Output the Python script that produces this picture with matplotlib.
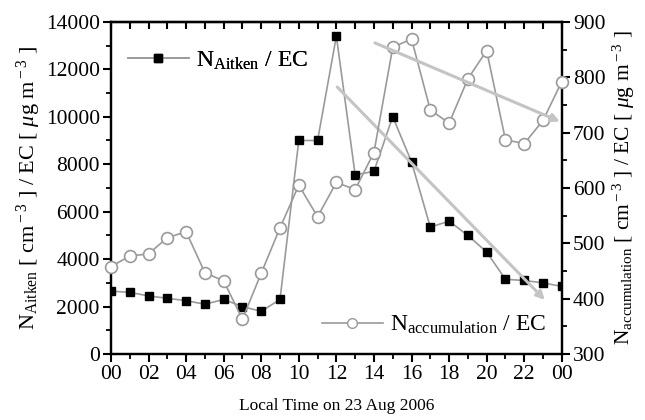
import numpy as np
import matplotlib.pyplot as plt
from matplotlib.ticker import MultipleLocator
from matplotlib.lines import Line2D

plt.rcParams["font.family"] = ["Liberation Serif", "DejaVu Serif"]
plt.rcParams["mathtext.fontset"] = "custom"
plt.rcParams["mathtext.rm"] = "Liberation Serif"
plt.rcParams["mathtext.it"] = "Liberation Serif:italic"

# ---------------------------------------------------------------------------
# Data (hour of 23 Aug 2006, 24 = 00 next day)
# ---------------------------------------------------------------------------
hours = list(range(25))
hour_labels = ["00", "02", "04", "06", "08", "10", "12", "14", "16", "18", "20", "22", "00"]

n_aitken = [2650, 2600, 2450, 2350, 2250, 2100, 2300, 2000, 1800, 2300,
            9000, 9000, 13400, 7550, 7700, 10000, 8100, 5350, 5600, 5000,
            4300, 3150, 3100, 3000, 2850]

n_accum = [458, 477, 481, 510, 521, 447, 432, 363, 446, 528,
           605, 548, 610, 597, 664, 854, 869, 741, 717, 797,
           848, 687, 680, 722, 792]

# trend arrows: (start hour, start value) -> (end hour, end value)
aitken_trend = [(12.05, 11250), (23.1, 2280)]
accum_trend = [(14.05, 862), (23.9, 720)]

# ---------------------------------------------------------------------------
LINE_GREY = "#9a9a9a"
TREND_GREY = "#c4c4c4"

fig = plt.figure(figsize=(6.45, 4.2), dpi=100)
ax = fig.add_axes([0.172, 0.157, 0.699, 0.791])
ax2 = ax.twinx()

ax.plot(hours, n_aitken, color=LINE_GREY, lw=1.2, marker="s", ms=6,
        mfc="black", mec="black", zorder=3)
ax2.plot(hours, n_accum, color=LINE_GREY, lw=1.2, marker="o", ms=8.5,
         mfc="white", mec=LINE_GREY, mew=1.2, zorder=3, clip_on=False)

(x0, y0), (x1, y1) = aitken_trend
ax.annotate("", xy=(x1, y1), xytext=(x0, y0),
            arrowprops=dict(arrowstyle="-|>", color=TREND_GREY, lw=2.2,
                            mutation_scale=12, shrinkA=0, shrinkB=0))
(x0, y0), (x1, y1) = accum_trend
ax2.annotate("", xy=(x1, y1), xytext=(x0, y0),
             arrowprops=dict(arrowstyle="-|>", color=TREND_GREY, lw=2.2,
                             mutation_scale=12, shrinkA=0, shrinkB=0))

ax.set_xlim(0, 24)
ax.set_ylim(0, 14000)
ax2.set_ylim(300, 900)

ax.set_xticks(range(0, 25, 2))
ax.set_xticklabels(hour_labels)
ax.xaxis.set_minor_locator(MultipleLocator(1))
ax.yaxis.set_major_locator(MultipleLocator(2000))
ax.yaxis.set_minor_locator(MultipleLocator(1000))
ax2.yaxis.set_major_locator(MultipleLocator(100))
ax2.yaxis.set_minor_locator(MultipleLocator(50))

for a in (ax, ax2):
    for s in a.spines.values():
        s.set_linewidth(1.6)
ax.tick_params(axis="both", which="major", direction="out", length=6, width=1.5,
               labelsize=15.5, pad=2)
ax.tick_params(axis="both", which="minor", direction="out", length=3.5, width=1.3)
ax.tick_params(axis="x", which="both", top=False)
ax2.tick_params(axis="y", which="major", direction="out", length=6, width=1.5,
                labelsize=15.5, pad=2)
ax2.tick_params(axis="y", which="minor", direction="out", length=3.5, width=1.3)

# top ticks point inward, every hour
top = ax.secondary_xaxis("top")
top.set_xticks(range(0, 25, 1))
top.tick_params(direction="in", length=5, width=1.5, labeltop=False)
top.spines["top"].set_linewidth(1.6)

ax.set_ylabel(r"N$_{\rm Aitken}$ [ cm$^{\rm -3}$ ] / EC [ $\mathit{\mu}$g m$^{\rm -3}$ ]",
              fontsize=16, labelpad=2)
ax2.set_ylabel(r"N$_{\rm accumulation}$ [ cm$^{\rm -3}$ ] / EC [ $\mathit{\mu}$g m$^{\rm -3}$ ]",
               fontsize=15.5, rotation=90, labelpad=4)
ax.set_xlabel("Local Time on 23 Aug 2006", fontsize=12.5, labelpad=10)

h1 = Line2D([], [], color=LINE_GREY, lw=1.2, marker="s", ms=6, mfc="black", mec="black")
h2 = Line2D([], [], color=LINE_GREY, lw=1.2, marker="o", ms=7, mfc="white", mec=LINE_GREY)
leg1 = ax.legend([h1], [r"N$_{\rm Aitken}$ / EC"], loc="upper left",
                 bbox_to_anchor=(-0.01, 0.98), frameon=False, fontsize=17,
                 handlelength=2.6, handletextpad=0.3)
ax.add_artist(leg1)
ax2.legend([h2], [r"N$_{\rm accumulation}$ / EC"], loc="lower left",
           bbox_to_anchor=(0.42, -0.01), frameon=False, fontsize=17,
           handlelength=2.6, handletextpad=0.3)

fig.savefig("out.png", dpi=100)
